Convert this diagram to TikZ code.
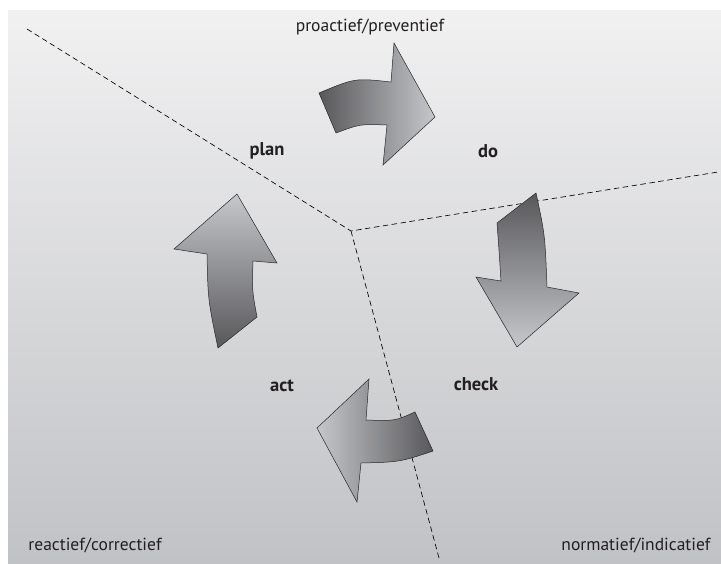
\documentclass[tikz,border=0pt]{standalone}
\usepackage{fontspec}
\setmainfont{PT Sans}
\usepackage{tikz}

\definecolor{bgtop}{RGB}{241,241,242}
\definecolor{bgbottom}{RGB}{193,194,197}
\definecolor{arrowdark}{RGB}{88,88,91}
\definecolor{arrowlight}{RGB}{198,199,202}
\definecolor{inktext}{RGB}{35,31,32}

\begin{document}
\begin{tikzpicture}[x=1pt, y=-1pt,
    cyclearrow/.style={draw=black!85, line width=0.5pt},
    phase/.style={font=\bfseries\fontsize{18.5}{21}\selectfont, text=inktext},
    stance/.style={font=\fontsize{17.5}{20}\selectfont, text=inktext},
    divider/.style={dashed, line width=0.65pt, dash pattern=on 5.5pt off 3.5pt}]
        \useasboundingbox (0,0) rectangle (721,563);
        \shade[top color=bgtop, bottom color=bgbottom] (8,10) rectangle (721,563);
        % dividing lines
        \coordinate (mid) at (351,231);
        \coordinate (endpro) at (27,29);
        \coordinate (endnorm) at (718,172);
        \coordinate (endre) at (439,558);
        \draw[divider] (endpro) -- (mid) -- (endnorm);
        \draw[divider] (mid) -- (endre);
        % plan -> do
        \shade[cyclearrow, left color=arrowdark, right color=arrowlight]
            (319,93) .. controls (355,78) .. (391,82) -- (394,43) -- (435,117) -- (383,165)
            -- (387,125) .. controls (360,124) .. (336,133) -- cycle;
        % do -> check
        \shade[cyclearrow, top color=arrowdark, bottom color=arrowlight]
            (536,193) .. controls (545,235) .. (547,287) -- (579,293) -- (517,347) -- (476,277)
            -- (501,281) .. controls (499,250) .. (497,223) -- cycle;
        % check -> act
        \shade[cyclearrow, right color=arrowdark, left color=arrowlight]
            (433,451) .. controls (400,462) .. (361,463) -- (357,502) -- (317,428) -- (369,379)
            -- (366,420) .. controls (395,421) .. (415,412) -- cycle;
        % act -> plan
        \shade[cyclearrow, bottom color=arrowdark, top color=arrowlight]
            (218,348) .. controls (208,300) .. (207,254) -- (174,249) -- (237,194) -- (277,263)
            -- (253,261) .. controls (252,290) .. (257,317) -- cycle;
        \node[phase] (plan) at (267,151) {plan};
        \node[phase] (do) at (488,151) {do};
        \node[phase] (check) at (476,384) {check};
        \node[phase] (act) at (282,386) {act};
        \node[stance] (pro) at (370,27) {proactief/preventief};
        \node[stance] (re) at (95,545) {reactief/correctief};
        \node[stance] (norm) at (636,545) {normatief/indicatief};
\end{tikzpicture}
\end{document}
